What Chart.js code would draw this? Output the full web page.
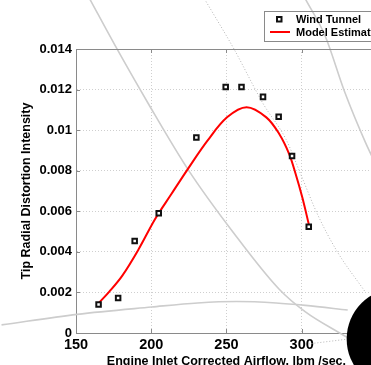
<!DOCTYPE html>
<html>
<head>
<meta charset="utf-8">
<script src="https://cdn.jsdelivr.net/npm/chart.js@4.4.1/dist/chart.umd.min.js"></script>
<style>
  html, body { margin: 0; padding: 0; background: #fff; overflow: hidden; }
  #wrap { width: 371px; height: 365px; overflow: hidden; }
  canvas { display: block; }
</style>
</head>
<body>
<div id="wrap"><canvas id="airflowChart" width="392" height="372" style="width:392px;height:372px"></canvas></div>
<script>
//Data//
const tunnelAirflow = [165, 178, 189, 205, 230, 249.5, 260, 274.3, 284.7, 293.6, 304.7];
const tunnelIntensity = [0.00141, 0.00172, 0.00453, 0.0059, 0.00964, 0.01213, 0.01213, 0.01164, 0.01066, 0.00873, 0.00524];

const modelAirflow = [164.5, 172, 180.8, 191.7, 202.6, 213.4, 224.3, 237.4, 250.4, 263.4, 276.5, 285.1, 291.7, 296, 300.4, 304.7];
const modelIntensity = [0.00143, 0.00203, 0.00283, 0.00414, 0.00562, 0.00685, 0.00808, 0.00948, 0.01063, 0.01113, 0.01063, 0.00981, 0.00882, 0.00784, 0.00669, 0.00537];

const xTickLabels = ["150", "200", "250", "300", "350"];
const yTickLabels = ["0", "0.002", "0.004", "0.006", "0.008", "0.01", "0.012", "0.014"];

// stray lines from the scanned page behind the plot
const strayAX = [159.1, 175.4, 198.2, 224.3, 254.3, 284.9, 302.5, 324.1, 338.4];
const strayAY = [0.01647, 0.01425, 0.01129, 0.00808, 0.00498, 0.00217, 0.00104, 0.00005, -0.00054];
const strayBX = [302.5, 315.6, 328.6, 342.3, 351.4];
const strayBY = [0.01646, 0.01464, 0.01188, 0.00941, 0.00799];
const strayArcX = [100.5, 150.7, 200.2, 230.8, 256.9, 283.0, 302.5, 330.6];
const strayArcY = [0.0004, 0.00092, 0.00128, 0.00148, 0.00155, 0.00148, 0.00136, 0.00113];
const dottedCX = [235.4, 255.0, 274.5, 289.5, 299.3, 310.4, 323.4, 342.3];
const dottedCY = [0.01647, 0.014, 0.01129, 0.00956, 0.00784, 0.00587, 0.00404, 0.00202];
const dottedDX = [304.5, 330.6];
const dottedDY = [-0.00054, -0.0003];
const blotX = [363.8];
const blotY = [-0.0003];

//Styles//
const axisColor = "#8a8a8a";
const gridColor = "#cfcfcf";
const strayColor = "#cdcdcd";
const modelColor = "#ff0000";
const fontFamily = '"Liberation Sans", Arial, Helvetica, sans-serif';

const toPoints = (xs, ys) => xs.map((x, i) => ({ x: x, y: ys[i] }));

const strayLine = (xs, ys, dotted) => ({
  label: "",
  data: toPoints(xs, ys),
  showLine: true,
  borderColor: dotted ? "#b4b4b4" : strayColor,
  borderWidth: dotted ? 1 : 1.6,
  borderDash: dotted ? [1, 2] : [],
  pointRadius: 0,
  cubicInterpolationMode: "monotone",
  clip: false,
  order: 10,
});

//Plugins//
const frameAndLegend = {
  id: "frameAndLegend",
  afterDatasetsDraw(chart) {
    const { ctx, chartArea: a, scales: { x, y } } = chart;
    ctx.save();
    ctx.strokeStyle = axisColor;
    ctx.lineWidth = 1;
    ctx.beginPath();
    ctx.moveTo(a.left, a.top + 0.5);
    ctx.lineTo(a.right, a.top + 0.5);
    ctx.moveTo(a.right - 0.5, a.top);
    ctx.lineTo(a.right - 0.5, a.bottom);
    y.ticks.forEach((t) => {
      const py = Math.round(y.getPixelForValue(t.value)) + 0.5;
      ctx.moveTo(a.left, py);
      ctx.lineTo(a.left + 4, py);
      ctx.moveTo(a.right, py);
      ctx.lineTo(a.right - 4, py);
    });
    x.ticks.forEach((t) => {
      const px = Math.round(x.getPixelForValue(t.value)) + 0.5;
      ctx.moveTo(px, a.bottom);
      ctx.lineTo(px, a.bottom - 4);
      ctx.moveTo(px, a.top);
      ctx.lineTo(px, a.top + 4);
    });
    ctx.stroke();

    // legend box
    const lx = 264, ly = 11;
    ctx.strokeStyle = axisColor;
    ctx.strokeRect(lx + 0.5, ly + 0.5, a.right - lx, 30);
    ctx.strokeStyle = "#111";
    ctx.lineWidth = 2;
    ctx.strokeRect(277, 17, 4.5, 4.5);
    ctx.strokeStyle = modelColor;
    ctx.beginPath();
    ctx.moveTo(270, 32);
    ctx.lineTo(290, 32);
    ctx.stroke();
    ctx.fillStyle = "#000";
    ctx.font = "bold 11px " + fontFamily;
    ctx.textBaseline = "middle";
    ctx.textAlign = "left";
    ctx.fillText(chart.data.datasets[0].label, 296, 19.5);
    ctx.fillText(chart.data.datasets[1].label, 296, 32.5);
    ctx.restore();
  },
};

//Chart//
const chartCtx = document.querySelector("#airflowChart").getContext("2d");
const data = {
  datasets: [
    {
      label: "Wind Tunnel",
      data: toPoints(tunnelAirflow, tunnelIntensity),
      pointStyle: "rect",
      pointRadius: 3.2,
      borderWidth: 2,
      borderColor: "#111",
      backgroundColor: "#fff",
      order: 0,
    },
    {
      label: "Model Estimate",
      data: toPoints(modelAirflow, modelIntensity),
      showLine: true,
      borderColor: modelColor,
      borderWidth: 2,
      pointRadius: 0,
      tension: 0.35,
      order: 1,
    },
    strayLine(strayAX, strayAY, false),
    strayLine(strayBX, strayBY, false),
    strayLine(strayArcX, strayArcY, false),
    strayLine(dottedCX, dottedCY, true),
    strayLine(dottedDX, dottedDY, true),
    {
      label: "",
      data: toPoints(blotX, blotY),
      pointRadius: 51,
      backgroundColor: "#000",
      borderColor: "#000",
      borderWidth: 0,
      clip: false,
      order: -1,
    },
  ],
};

const config = {
  type: "scatter",
  data: data,
  plugins: [frameAndLegend],
  options: {
    responsive: false,
    animation: false,
    events: [],
    layout: { autoPadding: false, padding: { left: 0, top: 49, right: 9, bottom: 0 } },
    plugins: {
      legend: { display: false },
      tooltip: { enabled: false },
    },
    scales: {
      x: {
        type: "linear",
        min: 150,
        max: 350,
        afterFit: (scale) => { scale.height = 39; },
        afterBuildTicks: (scale) => { scale.ticks = xTickLabels.map((t) => ({ value: Number(t) })); },
        ticks: {
          callback: (v, i) => xTickLabels[i],
          color: "#000",
          padding: 3,
          font: { family: fontFamily, size: 14.5, weight: "bold" },
        },
        grid: { color: gridColor, drawTicks: false },
        border: { color: axisColor, width: 1, dash: [1, 2] },
        title: {
          display: true,
          text: "Engine Inlet Corrected Airflow, lbm /sec.",
          color: "#000",
          font: { family: fontFamily, size: 12.5, weight: "bold" },
          padding: { top: 0, bottom: 3 },
        },
      },
      y: {
        type: "linear",
        min: 0,
        max: 0.014,
        afterFit: (scale) => { scale.width = 76; },
        afterBuildTicks: (scale) => { scale.ticks = yTickLabels.map((t) => ({ value: Number(t) })); },
        ticks: {
          callback: (v, i) => yTickLabels[i],
          color: "#000",
          padding: 4,
          font: { family: fontFamily, size: 13, weight: "bold" },
        },
        grid: { color: gridColor, drawTicks: false },
        border: { color: axisColor, width: 1, dash: [1, 2] },
        title: {
          display: true,
          text: "Tip Radial Distortion Intensity",
          color: "#000",
          font: { family: fontFamily, size: 12.5, weight: "bold" },
          padding: { top: 19, bottom: 0 },
        },
      },
    },
  },
};

const airflowChart = new Chart(chartCtx, config);
</script>
</body>
</html>
